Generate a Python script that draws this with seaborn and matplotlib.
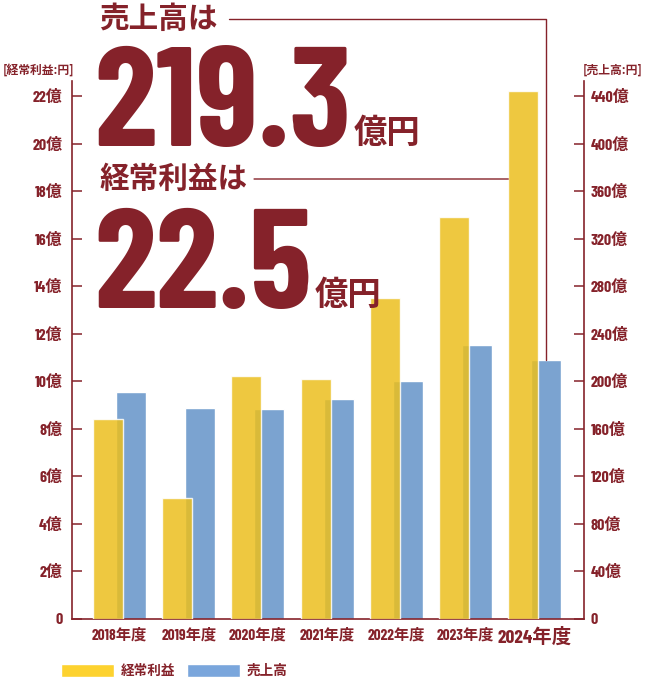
import matplotlib
matplotlib.use('Agg')
import matplotlib.pyplot as plt
from matplotlib.patches import Patch
import pandas as pd
import seaborn as sns

# --- data (億円) ---
years = ['2018年度', '2019年度', '2020年度', '2021年度', '2022年度', '2023年度', '2024年度']
profit = [8.4, 5.1, 10.2, 10.1, 13.5, 16.9, 22.2]            # 経常利益
sales = [191.2, 177.3, 176.7, 184.8, 200.0, 230.3, 217.6]    # 売上高
left_ticks = list(range(0, 23, 2))
left_labels = ['0'] + [f'{v}億' for v in left_ticks[1:]]
right_ticks = list(range(0, 441, 40))
right_labels = ['0'] + [f'{v}億' for v in right_ticks[1:]]
headline_sales = '219.3'
headline_profit = '22.5'

RATIO = 20  # right axis / left axis
RED = '#85222a'
YELLOW = '#ebbf1e'
BLUE = '#7ba3d0'

df = pd.DataFrame({
    '年度': years * 2,
    '系列': ['経常利益'] * len(years) + ['売上高'] * len(years),
    '値': profit + [s / RATIO for s in sales],
})

sns.set_theme(style='white')
JP = ['Noto Sans CJK JP', 'DejaVu Sans']
NUM = ['Barlow Condensed', 'Noto Sans CJK JP', 'DejaVu Sans']
plt.rcParams['font.family'] = JP

fig = plt.figure(figsize=(6.45, 6.87), dpi=100)
ax = fig.add_axes([0.1116, 0.0990, 0.7938, 0.7831])

sns.barplot(data=df, x='年度', y='値', hue='系列',
            palette={'経常利益': YELLOW, '売上高': BLUE},
            width=0.667, gap=-0.3, saturation=1, errorbar=None,
            legend=False, ax=ax)
# yellow bars sit on top, slightly see-through so the overlap darkens
for bar in ax.containers[0]:
    bar.set_alpha(0.85)
    bar.set_zorder(3)

ax.set_xlabel('')
ax.set_ylabel('')
ax.set_xlim(-0.686, 6.71)
ax.set_ylim(0, 22.63)
for s in ['top', 'right']:
    ax.spines[s].set_visible(False)
for s in ['left', 'bottom']:
    ax.spines[s].set_color(RED)
    ax.spines[s].set_linewidth(1.2)

ax.set_yticks(left_ticks, left_labels)
ax.tick_params(axis='y', left=True, direction='in', length=7, width=1.1,
               color=RED, labelcolor=RED, pad=7, labelsize=11.5)
ax.tick_params(axis='x', bottom=False, length=0, pad=6.5, labelcolor=RED, labelsize=11)
for lab in ax.get_yticklabels() + ax.get_xticklabels():
    lab.set_fontfamily(NUM)
    lab.set_fontweight('bold')
ax.get_xticklabels()[-1].set_fontsize(14)

sec = ax.secondary_yaxis('right', functions=(lambda v: v * RATIO, lambda v: v / RATIO))
sec.set_ticks(right_ticks, labels=right_labels)
sec.spines['right'].set_color(RED)
sec.spines['right'].set_linewidth(1.2)
sec.tick_params(axis='y', right=True, direction='in', length=7, width=1.1,
                color=RED, labelcolor=RED, pad=5, labelsize=11.5)
for lab in sec.get_yticklabels():
    lab.set_fontfamily(NUM)
    lab.set_fontweight('bold')

# axis headers
fig.text(3 / 645, 1 - 70 / 687, '[経常利益:円]', fontsize=8.5, color=RED,
         fontweight='bold', va='center', ha='left')
fig.text(583 / 645, 1 - 70 / 687, '[売上高:円]', fontsize=8.5, color=RED,
         fontweight='bold', va='center', ha='left')

# headlines
t1 = fig.text(99 / 645, 1 - 18.5 / 687, '売上高は', fontsize=21.3, fontweight='bold',
              color=RED, va='center', ha='left')
n1 = fig.text(94 / 645, 1 - 146 / 687, headline_sales, fontsize=102, fontweight='bold',
              family=NUM, color=RED, va='baseline', ha='left')
ax.annotate('億円', xy=(1, 1 - 143 / 687), xycoords=(n1, 'figure fraction'),
            xytext=(2, 0), textcoords='offset points', fontsize=24, fontweight='bold',
            color=RED, va='baseline', ha='left', annotation_clip=False)

t2 = fig.text(99 / 645, 1 - 179 / 687, '経常利益は', fontsize=21.3, fontweight='bold',
              color=RED, va='center', ha='left')
n2 = fig.text(94 / 645, 1 - 308 / 687, headline_profit, fontsize=102, fontweight='bold',
              family=NUM, color=RED, va='baseline', ha='left')
ax.annotate('億円', xy=(1, 1 - 305 / 687), xycoords=(n2, 'figure fraction'),
            xytext=(2, 0), textcoords='offset points', fontsize=24, fontweight='bold',
            color=RED, va='baseline', ha='left', annotation_clip=False)

# leader lines to the 2024 bars
blue_last = ax.containers[1][-1]
yellow_last = ax.containers[0][-1]
ax.annotate('', xy=(blue_last.get_x() + blue_last.get_width() / 2, blue_last.get_height()),
            xycoords='data', xytext=(1, 0.5), textcoords=t1,
            arrowprops=dict(arrowstyle='-', color=RED, lw=1, shrinkA=8, shrinkB=0,
                            connectionstyle='angle,angleA=0,angleB=90,rad=0'),
            annotation_clip=False)
ax.annotate('', xy=(yellow_last.get_x(), 0.5), xycoords=('data', t2),
            xytext=(1, 0.5), textcoords=t2,
            arrowprops=dict(arrowstyle='-', color=RED, lw=1, shrinkA=5, shrinkB=0),
            annotation_clip=False)

# legend
handles = [Patch(facecolor='#fdd22f', label='経常利益'),
           Patch(facecolor='#7aa6dc', label='売上高')]
fig.legend(handles=handles, loc='center left', bbox_to_anchor=(61 / 645, 1 - 671 / 687),
           ncol=2, frameon=False, prop={'weight': 'bold', 'size': 9.8},
           handlelength=3.9, handleheight=1.1, handletextpad=0.5,
           columnspacing=0.85, borderaxespad=0, borderpad=0, labelcolor=RED)

fig.savefig('out.png', dpi=100)
